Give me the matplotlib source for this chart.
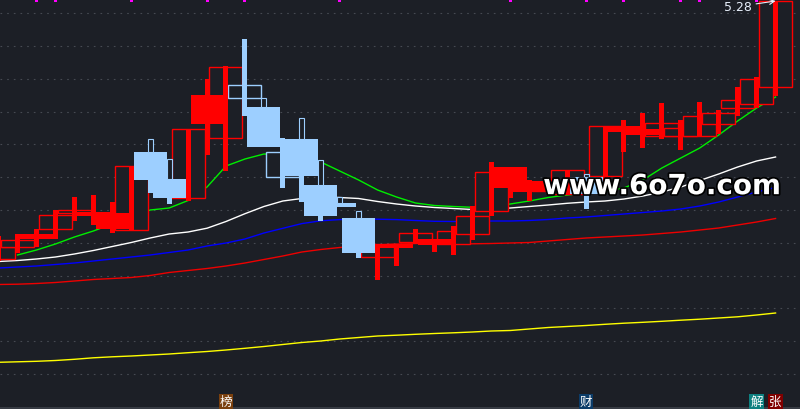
import numpy as np
import matplotlib
matplotlib.use("Agg")
import matplotlib.pyplot as plt
import matplotlib.patheffects as pe

# daily candles (price units), left to right
opens = [2.70, 2.82, 2.95, 3.00, 3.16, 3.17, 3.16, 2.99, 3.77, 3.50,
         3.31, 4.34, 3.91, 4.31, 4.22, 3.52, 3.90, 3.44, 3.26, 3.11,
         2.72, 2.85, 2.87, 2.90, 2.85, 2.95, 3.18, 3.62, 3.48, 3.38,
         3.35, 3.52, 3.53, 4.03, 4.00, 3.93, 3.93, 3.93, 4.05, 4.21,
         4.25, 4.42]
highs = [2.93, 2.95, 3.00, 3.19, 3.32, 3.34, 3.27, 3.63, 3.90, 3.70,
         4.00, 4.50, 4.63, 4.90, 4.31, 3.91, 4.11, 3.69, 3.32, 3.18,
         2.85, 2.85, 3.00, 2.90, 3.03, 3.23, 3.67, 3.62, 3.49, 3.50,
         3.59, 3.55, 4.03, 4.09, 4.16, 4.26, 4.09, 4.27, 4.19, 4.42,
         4.52, 5.28]
lows = [2.68, 2.76, 2.82, 2.90, 3.08, 3.04, 2.96, 2.99, 3.36, 3.25,
        3.28, 3.74, 3.58, 4.13, 3.82, 3.41, 3.27, 3.08, 3.22, 2.71,
        2.49, 2.63, 2.85, 2.77, 2.74, 2.89, 3.13, 3.31, 3.28, 3.35,
        3.35, 3.20, 3.40, 3.77, 3.81, 3.90, 3.79, 3.93, 3.95, 4.13,
        4.21, 4.33]
closes = [2.82, 2.89, 2.90, 3.14, 3.19, 3.13, 3.00, 3.63, 3.49, 3.31,
          4.00, 4.05, 4.62, 4.44, 3.82, 3.77, 3.53, 3.13, 3.22, 2.76,
          2.85, 2.81, 2.96, 2.84, 2.98, 3.13, 3.57, 3.41, 3.37, 3.44,
          3.59, 3.35, 4.03, 3.97, 3.94, 4.06, 4.01, 4.13, 4.16, 4.29,
          4.50, 5.28]
# 1 = strong day (red), 0 = weak day (light blue)
trend = [1, 1, 1, 1, 1, 1, 1, 1, 0, 0,
         1, 1, 1, 0, 0, 0, 0, 0, 0, 0,
         1, 1, 1, 1, 1, 1, 1, 1, 1, 1,
         1, 0, 1, 1, 1, 1, 1, 1, 1, 1,
         1, 1]

nan = np.nan
ma_green = [nan, 2.74, 2.79, 2.85, 2.92, 2.98, 3.05, 3.12, 3.19, 3.21,
            3.285, 3.42, 3.63, 3.70, 3.75, 3.74, 3.71, 3.67, 3.58, 3.49,
            3.39, 3.32, 3.26, 3.235, 3.225, 3.217, 3.22, 3.25, 3.28, 3.315,
            3.34, 3.36, 3.38, 3.41, 3.49, 3.61, 3.71, 3.81, 3.94, 4.08,
            4.21, 4.32]
ma_white = [2.675, 2.685, 2.70, 2.72, 2.75, 2.785, 2.825, 2.865, 2.91, 2.95,
            2.97, 3.008, 3.075, 3.153, 3.225, 3.28, 3.305, 3.32, 3.315, 3.305,
            3.275, 3.25, 3.23, 3.215, 3.205, 3.195, 3.20, 3.21, 3.225, 3.24,
            3.257, 3.27, 3.28, 3.30, 3.33, 3.37, 3.42, 3.485, 3.55, 3.62,
            3.68, 3.72]
ma_blue = [2.61, 2.62, 2.63, 2.645, 2.66, 2.68, 2.70, 2.72, 2.74, 2.765,
           2.79, 2.83, 2.86, 2.90, 2.96, 3.007, 3.054, 3.082, 3.094, 3.098,
           3.098, 3.094, 3.085, 3.077, 3.075, 3.077, 3.08, 3.08, 3.085, 3.095,
           3.11, 3.12, 3.135, 3.15, 3.165, 3.18, 3.20, 3.23, 3.27, 3.32,
           3.37, 3.415]
ma_red = [2.445, 2.448, 2.455, 2.465, 2.48, 2.495, 2.505, 2.515, 2.535, 2.565,
          2.585, 2.605, 2.63, 2.66, 2.695, 2.73, 2.77, 2.795, 2.815, 2.83,
          2.84, 2.85, 2.855, 2.857, 2.85, 2.852, 2.855, 2.86, 2.865, 2.88,
          2.895, 2.91, 2.92, 2.93, 2.94, 2.955, 2.97, 2.99, 3.01, 3.04,
          3.07, 3.105]
ma_yellow = [1.667, 1.672, 1.677, 1.685, 1.697, 1.712, 1.722, 1.73, 1.74, 1.75,
             1.763, 1.775, 1.79, 1.807, 1.825, 1.845, 1.865, 1.88, 1.90, 1.915,
             1.93, 1.938, 1.947, 1.955, 1.962, 1.97, 1.98, 1.985, 2.00, 2.015,
             2.025, 2.035, 2.047, 2.058, 2.067, 2.077, 2.088, 2.098, 2.11, 2.122,
             2.14, 2.16]

signal_days = [2, 3, 7, 11, 13, 18, 27, 31, 33, 36, 37, 40]
note_days = [12, 31, 40, 41]
note_text = ['榜', '财', '解', '张']

BG = '#1c1f26'
RED = '#ff0000'
CYAN = '#9dcfff'
note_bg = ['#7a400e', '#0c3c68', '#0e8080', '#800000']

BOX_W = 33 / 18.95
BAR_W = 5 / 18.95

fig = plt.figure(figsize=(8, 4.1), dpi=100, facecolor=BG)
ax = fig.add_axes([0, 0, 1, 1], facecolor=BG)
ax.set_xlim(0.074, 42.29)
ax.set_ylim(1.20, 5.30)
ax.set_axis_off()

# dotted grid
for i in range(12):
    ax.axhline(5.158 - 0.328 * i, color='#464a52', lw=0.8,
               linestyle=(0, (1.5, 4.5)), zorder=0)
ax.axhline(1.21, color='#3d414a', lw=1.2, zorder=0)

x = np.arange(len(opens))
o = np.array(opens)
h = np.array(highs)
l = np.array(lows)
c = np.array(closes)
strong = np.array(trend) == 1
col = np.where(strong, RED, CYAN)

# moving averages underneath the candles
for vals, lc in [(ma_yellow, '#ffff00'), (ma_red, '#ee0000'), (ma_blue, '#0000ff'),
                 (ma_white, '#ffffff'), (ma_green, '#00ee00')]:
    ax.plot(x, vals, color=lc, lw=1.0, zorder=1)

hollow = c > o
solid = ~hollow
ax.bar(x[hollow], (c - o)[hollow], bottom=o[hollow], width=BOX_W,
       facecolor=BG, edgecolor=col[hollow], linewidth=1.0, zorder=3)
ax.bar(x[solid], (o - c)[solid], bottom=c[solid], width=BOX_W,
       color=col[solid], linewidth=0, zorder=4)

# shadows
plain = ~(solid & ~strong)
ax.bar(x[plain], (h - l)[plain], bottom=l[plain], width=BAR_W,
       color=col[plain], linewidth=0, zorder=5)
weak_solid = solid & ~strong
ax.bar(x[weak_solid], (h - o)[weak_solid], bottom=o[weak_solid], width=BAR_W,
       facecolor=BG, edgecolor=CYAN, linewidth=0.8, zorder=5)
ax.bar(x[weak_solid], (c - l)[weak_solid], bottom=l[weak_solid], width=BAR_W,
       color=CYAN, linewidth=0, zorder=5)

# top signal ticks
ax.bar(signal_days, 0.025, bottom=5.275, width=3 / 18.95, color='#ff00ff',
       linewidth=0, zorder=6, clip_on=False)

# highest price label
imax = int(np.argmax(h))
ax.annotate(f'{h[imax]:.2f}', xy=(x[imax], h[imax]), xytext=(-17, -4),
            textcoords='offset points', ha='right', va='center',
            fontsize=9, color='#e6eefa', zorder=7,
            arrowprops=dict(arrowstyle='->', color='#e6eefa', lw=0.8,
                            shrinkA=1, shrinkB=0))

# bottom event labels
for d, t, bgc in zip(note_days, note_text, note_bg):
    ax.text(d, 1.28, t, ha='center', va='center', fontsize=9, color='white',
            family=['Noto Sans CJK SC', 'DejaVu Sans'], zorder=7,
            bbox=dict(boxstyle='square,pad=0.08', fc=bgc, ec='none'))

# watermark
wm = fig.text(0.679, 0.524, 'www.6o7o.com', ha='left', va='baseline',
              fontsize=20, fontweight='bold', color='white', zorder=10,
              path_effects=[pe.withStroke(linewidth=2.5, foreground='black')])
fig.canvas.draw()
bb = wm.get_window_extent()
wm.set_fontsize(20 * 238 / bb.width)

fig.savefig('out.png', dpi=100, facecolor=BG)
